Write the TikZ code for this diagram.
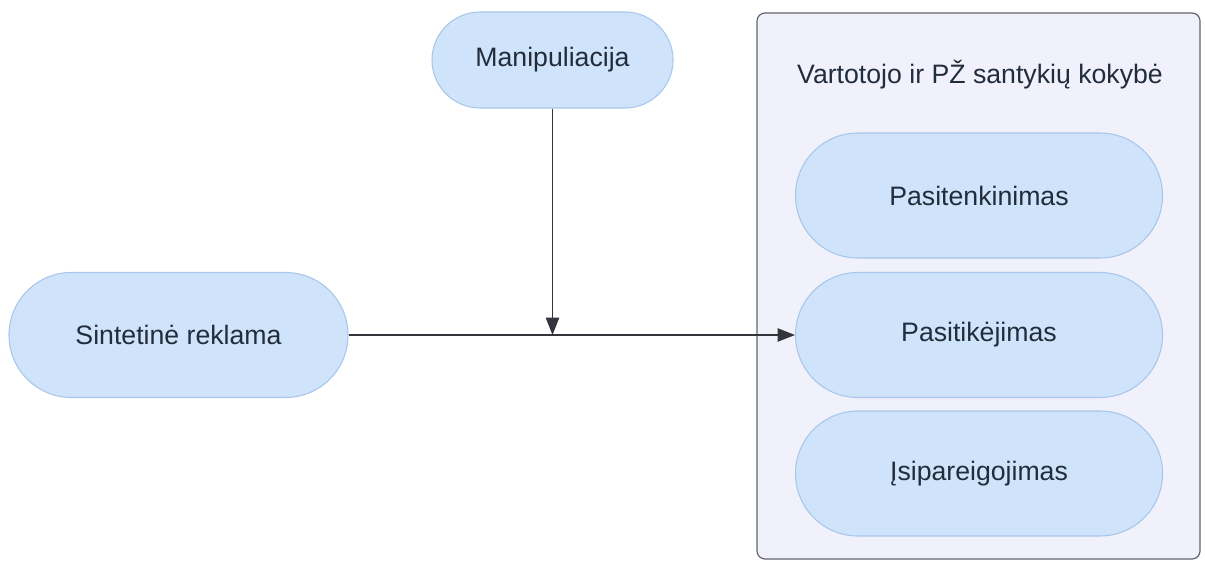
\documentclass[tikz,border=0pt]{standalone}
\usepackage{fontspec}
\setmainfont{Liberation Sans}
\usetikzlibrary{arrows.meta}
\definecolor{pillfill}{HTML}{CFE3FA}
\definecolor{pillline}{HTML}{A8C7EA}
\definecolor{boxfill}{HTML}{F1F1FB}
\definecolor{boxline}{HTML}{62656F}
\definecolor{txt}{HTML}{222D3C}
\definecolor{wire}{HTML}{33353A}
\tikzset{
  pill/.style={draw=pillline, fill=pillfill, line width=0.8pt, text=txt,
    font=\fontsize{20}{24}\selectfont, inner sep=0pt},
  group/.style={draw=boxline, fill=boxfill, line width=0.9pt, rounded corners=6pt},
  link/.style={draw=wire, line width=1pt, -{Triangle[length=13pt,width=10pt]}},
}
\begin{document}
\begin{tikzpicture}[x=0.75pt,y=-0.75pt]
\useasboundingbox (0,0) rectangle (1205,563);
% container for the relationship-quality factors
\path[group] (757,13) rectangle (1200,559);
\node[text=txt, font=\fontsize{20}{24}\selectfont] (title) at (980,75) {Vartotojo ir PŽ santykių kokybė};
% nodes
\node[pill, minimum width=241*0.75pt, minimum height=96*0.75pt, rounded corners=36pt] (manip) at (552.5,60) {Manipuliacija};
\node[pill, minimum width=339*0.75pt, minimum height=125*0.75pt, rounded corners=46.8pt] (sint) at (178.5,335) {Sintetinė reklama};
\node[pill, minimum width=367*0.75pt, minimum height=125*0.75pt, rounded corners=46.8pt] (pasiten) at (979,195.5) {Pasitenkinimas};
\node[pill, minimum width=367*0.75pt, minimum height=125*0.75pt, rounded corners=46.8pt] (pasitik) at (979,335) {Pasitikėjimas};
\node[pill, minimum width=367*0.75pt, minimum height=125*0.75pt, rounded corners=46.8pt] (isip) at (979,473.5) {Įsipareigojimas};
% connectors
\coordinate (joint) at (manip.south |- sint.east);
\draw[link] (sint.east) -- (pasitik.west);
\draw[link] (manip.south) -- (joint);
\end{tikzpicture}
\end{document}
